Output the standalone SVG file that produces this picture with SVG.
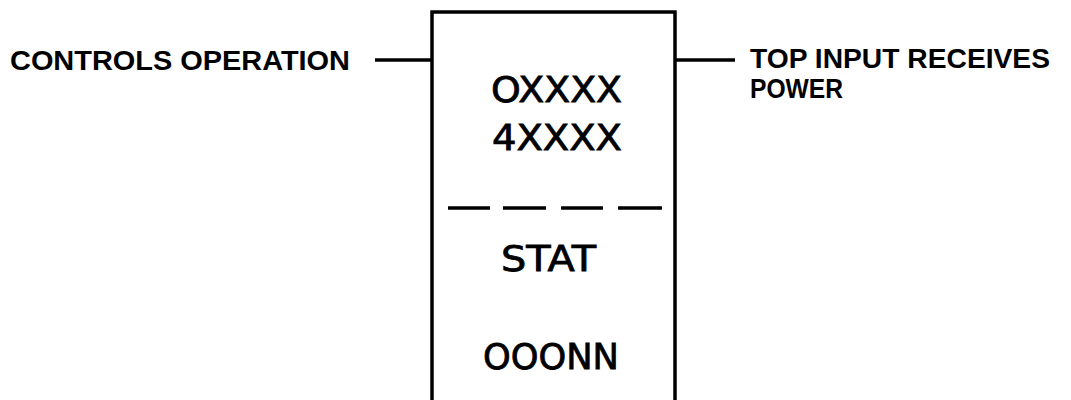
<svg xmlns="http://www.w3.org/2000/svg" width="1071" height="400" viewBox="0 0 1071 400">
<style>
.ln{stroke:#000;stroke-width:3.5;fill:none;stroke-linecap:butt}
.lbl{font-family:"Liberation Sans",Arial,sans-serif;font-weight:bold;font-size:27px;fill:#000}
.bx{font-family:"DejaVu Sans","Liberation Sans",sans-serif;font-size:35px;fill:#000;stroke:#000;stroke-width:0.8}
</style>
<rect width="1071" height="400" fill="#fff"/>
<g id="block">
<path class="ln" d="M432,410 V12 H675 V410"/>
<path class="ln" d="M448,208 H490 M503,208 H546 M561,208 H603 M618,208 H662" stroke-width="4"/>
<text class="bx" x="491" y="102" textLength="131" lengthAdjust="spacingAndGlyphs">OXXXX</text>
<text class="bx" x="492" y="150" textLength="130" lengthAdjust="spacingAndGlyphs">4XXXX</text>
<text class="bx" x="501" y="271" textLength="95" lengthAdjust="spacingAndGlyphs">STAT</text>
<text class="bx" x="483" y="369" textLength="136" lengthAdjust="spacingAndGlyphs">OOONN</text>
</g>
<g id="label-left">
<text class="lbl" x="10" y="70" textLength="340" lengthAdjust="spacingAndGlyphs">CONTROLS OPERATION</text>
</g>
<g id="label-right">
<text class="lbl" x="750" y="68" textLength="300" lengthAdjust="spacingAndGlyphs">TOP INPUT RECEIVES</text>
<text class="lbl" x="750" y="98" textLength="93" lengthAdjust="spacingAndGlyphs">POWER</text>
</g>
<g id="connectors">
<path class="ln" d="M375,60 H432"/>
<path class="ln" d="M675,60 H735"/>
</g>
</svg>
